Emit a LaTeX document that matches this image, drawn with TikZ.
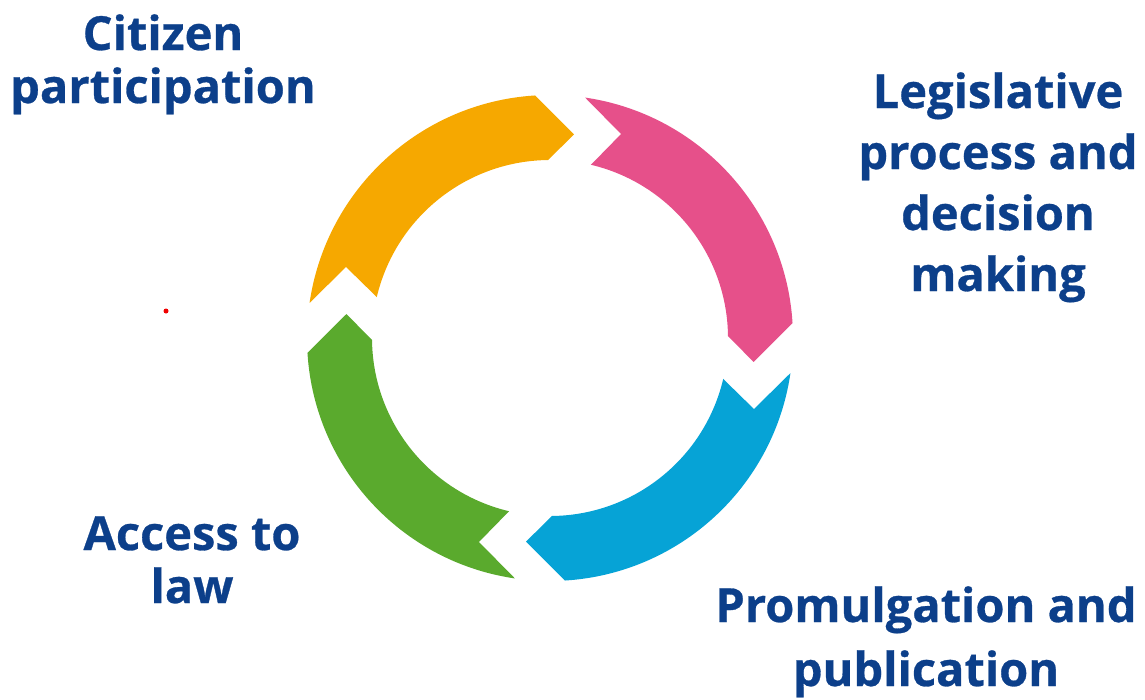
\documentclass[tikz,border=0pt]{standalone}
\usepackage{fontspec}
\setmainfont{Open Sans}[BoldFeatures={FakeBold=0.6}]
\usepackage{tikz}

\definecolor{custcol_f6_a8_0}{RGB}{246, 168, 0}
\definecolor{custcol_e6_50_8a}{RGB}{230, 80, 138}
\definecolor{custcol_6_a3_d6}{RGB}{6, 163, 214}
\definecolor{custcol_5a_aa_2d}{RGB}{90, 170, 45}
\definecolor{custcol_0c_3f_8a}{RGB}{12, 63, 138}
\definecolor{custcol_f0_0_0}{RGB}{240, 0, 0}

\begin{document}
\begin{tikzpicture}[x=1pt,y=-1pt,
	lbl/.style={inner sep=0, outer sep=0, custcol_0c_3f_8a, align=center, anchor=base, font=\bfseries\fontsize{47pt}{53pt}\selectfont},
	lbltall/.style={lbl, font=\bfseries\fontsize{47pt}{61pt}\selectfont}]
	\useasboundingbox (0,0) rectangle (1145,699);
	% the four arrows of the ring, turned a quarter each time
	\foreach \col [count=\i from 0] in {custcol_f6_a8_0, custcol_e6_50_8a, custcol_6_a3_d6, custcol_5a_aa_2d}
	{
		\fill [\col, shift={(550,338)}, rotate=-90*\i]  (-171.7:243) arc [start angle=-171.7, end angle=-93.5, radius=243] -- (-83.3:205) -- (-90.6:178) arc [start angle=-90.6, end angle=-166.7, radius=178] -- (-160.8:216) -- cycle;
	}
	% base anchor sits on the last line
	\node (citizen) [lbl] at (163,103) {Citizen\\participation};
	\node (legis) [lbltall] at (998,291) {Legislative\\process and\\decision\\making};
	\node (promul) [lbl, font=\bfseries\fontsize{47pt}{64pt}\selectfont] at (926,686) {Promulgation and\\publication};
	\node (access) [lbl] at (192,603) {Access to\\law};
	\fill [custcol_f0_0_0]  (166.0,311.0) ellipse (2.5 and 2.5);
\end{tikzpicture}
\end{document}
